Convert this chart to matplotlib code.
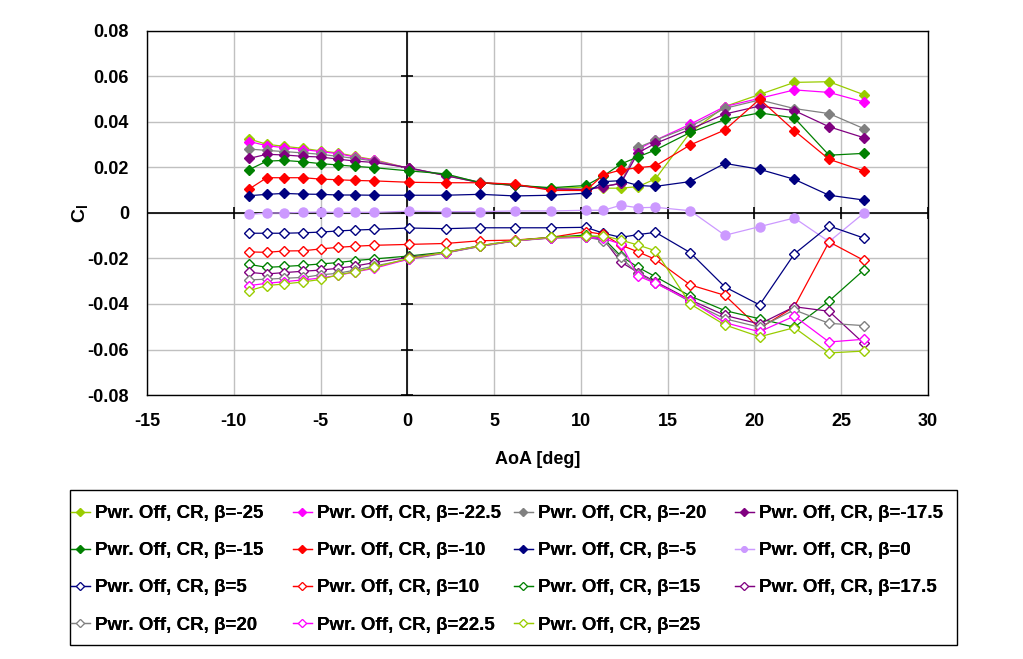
import numpy as np
import matplotlib.pyplot as plt
from matplotlib.lines import Line2D
from matplotlib.patches import Rectangle

plt.rcParams['font.family'] = ['Liberation Sans', 'DejaVu Sans']
plt.rcParams['font.weight'] = 'bold'
plt.rcParams['mathtext.fontset'] = 'custom'
plt.rcParams['mathtext.rm'] = 'Liberation Sans:bold'
plt.rcParams['mathtext.bf'] = 'Liberation Sans:bold'
plt.rcParams['mathtext.it'] = 'Liberation Sans:bold'

# Angle of attack (deg)
aoa = [-9.1, -8.1, -7.1, -6.0, -5.0, -4.0, -3.0, -1.9, 0.1, 2.2, 4.2, 6.2, 8.3,
       10.3, 11.3, 12.3, 13.3, 14.3, 16.3, 18.3, 20.3, 22.3, 24.3, 26.3]

# Cl per sideslip angle
cl_m25 = [0.0325, 0.0302, 0.0293, 0.0284, 0.0273, 0.0264, 0.0249, 0.0234, 0.0196, 0.0165, 0.0133, 0.0122,
          0.0108, 0.0113, 0.0109, 0.0109, 0.0116, 0.0150, 0.0354, 0.0468, 0.0521, 0.0574, 0.0577, 0.0520]
cl_m225 = [0.0314, 0.0296, 0.0287, 0.0279, 0.0270, 0.0261, 0.0246, 0.0231, 0.0196, 0.0166, 0.0134, 0.0122,
           0.0106, 0.0101, 0.0116, 0.0130, 0.0280, 0.0320, 0.0390, 0.0468, 0.0504, 0.0541, 0.0530, 0.0488]
cl_m20 = [0.0281, 0.0275, 0.0270, 0.0264, 0.0258, 0.0249, 0.0240, 0.0228, 0.0196, 0.0168, 0.0135, 0.0123,
          0.0107, 0.0103, 0.0117, 0.0131, 0.0288, 0.0320, 0.0380, 0.0460, 0.0497, 0.0459, 0.0437, 0.0371]
cl_m175 = [0.0240, 0.0258, 0.0255, 0.0249, 0.0246, 0.0237, 0.0228, 0.0222, 0.0199, 0.0164, 0.0133, 0.0121,
           0.0106, 0.0103, 0.0116, 0.0130, 0.0265, 0.0306, 0.0368, 0.0435, 0.0470, 0.0450, 0.0379, 0.0331]
cl_m15 = [0.0191, 0.0228, 0.0231, 0.0225, 0.0217, 0.0211, 0.0205, 0.0199, 0.0185, 0.0172, 0.0133, 0.0122,
          0.0111, 0.0121, 0.0163, 0.0215, 0.0247, 0.0277, 0.0354, 0.0411, 0.0440, 0.0418, 0.0254, 0.0262]
cl_m10 = [0.0106, 0.0155, 0.0155, 0.0155, 0.0149, 0.0146, 0.0143, 0.0141, 0.0135, 0.0133, 0.0133, 0.0127,
          0.0099, 0.0099, 0.0168, 0.0189, 0.0199, 0.0207, 0.0299, 0.0365, 0.0500, 0.0362, 0.0236, 0.0185]
cl_m5 = [0.0076, 0.0082, 0.0086, 0.0083, 0.0082, 0.0079, 0.0079, 0.0078, 0.0078, 0.0078, 0.0082, 0.0075,
         0.0078, 0.0087, 0.0138, 0.0142, 0.0121, 0.0117, 0.0138, 0.0218, 0.0192, 0.0148, 0.0078, 0.0057]
cl_0 = [-0.0006, 0.0000, 0.0000, 0.0003, 0.0004, 0.0003, 0.0003, 0.0003, 0.0008, 0.0006, 0.0006, 0.0009,
        0.0009, 0.0012, 0.0012, 0.0034, 0.0023, 0.0025, 0.0010, -0.0098, -0.0060, -0.0022, -0.0126, -0.0001]
cl_p5 = [-0.0089, -0.0089, -0.0089, -0.0087, -0.0084, -0.0079, -0.0075, -0.0072, -0.0066, -0.0069, -0.0065, -0.0065,
         -0.0065, -0.0063, -0.0089, -0.0107, -0.0095, -0.0085, -0.0174, -0.0325, -0.0404, -0.0180, -0.0057, -0.0110]
cl_p10 = [-0.0171, -0.0173, -0.0167, -0.0166, -0.0158, -0.0151, -0.0146, -0.0142, -0.0138, -0.0134, -0.0122, -0.0119,
          -0.0107, -0.0082, -0.0094, -0.0141, -0.0171, -0.0204, -0.0316, -0.0362, -0.0507, -0.0412, -0.0127, -0.0208]
cl_p15 = [-0.0226, -0.0239, -0.0235, -0.0230, -0.0224, -0.0218, -0.0209, -0.0202, -0.0189, -0.0172, -0.0144, -0.0121,
          -0.0107, -0.0097, -0.0111, -0.0189, -0.0239, -0.0280, -0.0365, -0.0429, -0.0465, -0.0502, -0.0387, -0.0251]
cl_p175 = [-0.0261, -0.0268, -0.0262, -0.0256, -0.0251, -0.0243, -0.0233, -0.0218, -0.0195, -0.0175, -0.0146, -0.0122,
           -0.0109, -0.0107, -0.0115, -0.0215, -0.0262, -0.0302, -0.0382, -0.0450, -0.0488, -0.0412, -0.0432, -0.0573]
cl_p20 = [-0.0294, -0.0291, -0.0287, -0.0283, -0.0272, -0.0265, -0.0251, -0.0233, -0.0204, -0.0176, -0.0147, -0.0123,
          -0.0110, -0.0105, -0.0122, -0.0195, -0.0268, -0.0306, -0.0390, -0.0465, -0.0502, -0.0426, -0.0485, -0.0495]
cl_p225 = [-0.0319, -0.0309, -0.0302, -0.0294, -0.0286, -0.0274, -0.0259, -0.0243, -0.0202, -0.0174, -0.0145, -0.0122,
           -0.0109, -0.0107, -0.0112, -0.0136, -0.0277, -0.0309, -0.0385, -0.0482, -0.0522, -0.0453, -0.0567, -0.0555]
cl_p25 = [-0.0341, -0.0319, -0.0312, -0.0303, -0.0292, -0.0272, -0.0258, -0.0239, -0.0199, -0.0173, -0.0144, -0.0121,
          -0.0107, -0.0103, -0.0100, -0.0119, -0.0141, -0.0166, -0.0400, -0.0492, -0.0544, -0.0504, -0.0615, -0.0607]

betas = ['-25', '-22.5', '-20', '-17.5', '-15', '-10', '-5', '0',
         '5', '10', '15', '17.5', '20', '22.5', '25']
series = [cl_m25, cl_m225, cl_m20, cl_m175, cl_m15, cl_m10, cl_m5, cl_0,
          cl_p5, cl_p10, cl_p15, cl_p175, cl_p20, cl_p225, cl_p25]
colors = ['#99CC00', '#FF00FF', '#808080', '#800080', '#008000', '#FF0000', '#000080', '#CC99FF',
          '#000080', '#FF0000', '#008000', '#800080', '#808080', '#FF00FF', '#99CC00']

fig = plt.figure(figsize=(10.23, 6.59), dpi=100)
ax = fig.add_axes([0.1437, 0.4006, 0.7634, 0.5524])

handles = []
for b, y, c in zip(betas, series, colors):
    if b == '0':
        mk, mfc, ms = 'o', c, 6.5
    elif b.startswith('-'):
        mk, mfc, ms = 'D', c, 5.5
    else:
        mk, mfc, ms = 'D', 'white', 5.5
    ax.plot(aoa, y, color=c, lw=0.9, marker=mk, markersize=ms, markerfacecolor=mfc,
            markeredgecolor=c, markeredgewidth=1.0, zorder=3)
    handles.append(Line2D([], [], color=c, lw=0.9, marker=mk, markersize=4, markerfacecolor=mfc,
                          markeredgecolor=c, markeredgewidth=0.8,
                          label='Pwr. Off, CR, β=' + b))

ax.set_xlim(-15, 30)
ax.set_ylim(-0.08, 0.08)
xt = np.arange(-15, 31, 5)
yt = np.round(np.arange(-0.08, 0.081, 0.02), 2)
ax.set_xticks(xt)
ax.set_yticks(yt)
ax.set_xticklabels([str(v) for v in xt], fontsize=13, fontweight='bold')
ax.set_yticklabels(['0' if v == 0 else '%.2f' % v for v in yt], fontsize=13, fontweight='bold')
ax.tick_params(length=0, pad=13)
ax.grid(True, color='#C0C0C0', lw=1.0, zorder=0)
for s in ax.spines.values():
    s.set_color('black')
    s.set_linewidth(1.0)

# axes crossing at the origin with tick marks
ax.axhline(0, color='black', lw=1.2, zorder=2)
ax.axvline(0, color='black', lw=1.2, zorder=2)
ax.plot(xt, np.zeros(len(xt)), ls='none', marker='|', markersize=9, color='black', mew=1.2, zorder=2)
ax.plot(np.zeros(len(yt)), yt, ls='none', marker='_', markersize=9, color='black', mew=1.2, zorder=2)

ax.set_xlabel('AoA [deg]', fontsize=13, fontweight='bold', labelpad=15)
ax.set_ylabel(r'$\mathrm{C}_\mathrm{l}$', fontsize=14, labelpad=-2)

# legend: four equal-width columns, filled row by row, inside one frame
col_x = [71, 293, 514, 735]
for j in range(4):
    hs = handles[j::4]
    lg = fig.legend(hs, [h.get_label() for h in hs], loc='upper left',
                    bbox_to_anchor=(col_x[j] / 1023, 1 - 505 / 659), frameon=False,
                    prop={'weight': 'bold', 'size': 13.5}, handlelength=1.0, handletextpad=0.3,
                    labelspacing=1.07, borderpad=0, borderaxespad=0)
    fig.add_artist(lg)
fig.patches.append(Rectangle((70 / 1023, 1 - 645 / 659), 887 / 1023, 155 / 659,
                             transform=fig.transFigure, fill=False, ec='black', lw=1.0))

fig.savefig('out.png', dpi=100)
